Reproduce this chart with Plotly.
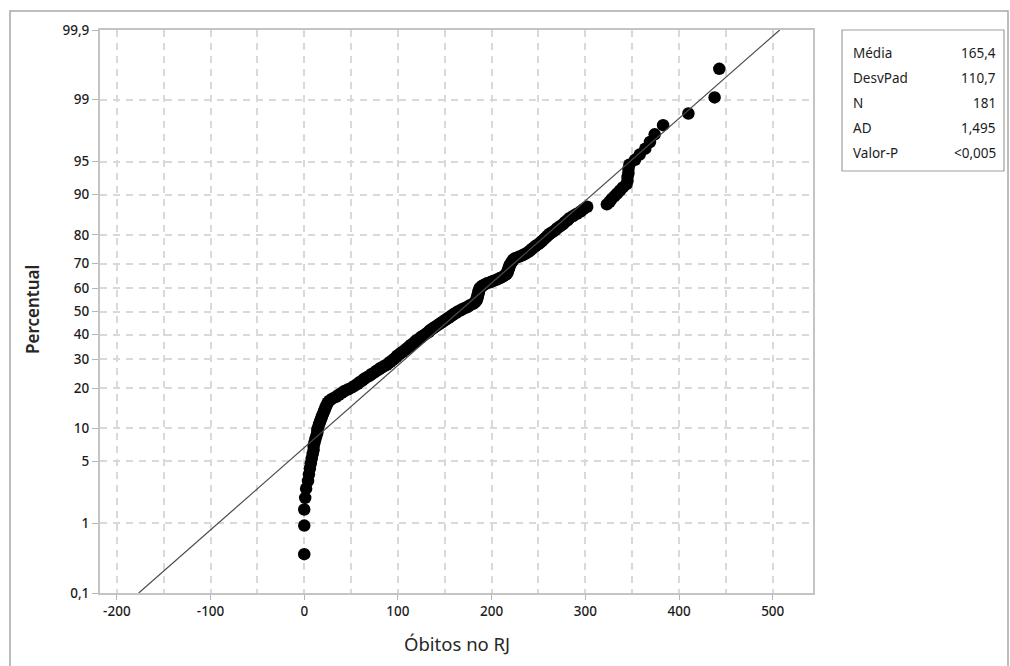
import plotly.graph_objects as go
from statistics import NormalDist

# ---- data (sorted daily deaths) ----
obitos = [
    0, 0, 0, 1, 2, 4, 5, 6, 7, 8,
    9, 10, 10, 11, 12, 13, 14, 14, 15, 16,
    17, 18, 19, 20, 21, 22, 23, 24, 25, 27,
    30, 34, 37, 40, 43, 47, 51, 54, 57, 59,
    62, 64, 67, 70, 72, 75, 77, 80, 82, 85,
    88, 90, 92, 94, 96, 98, 99, 101, 103, 105,
    107, 109, 111, 112, 114, 116, 118, 119, 121, 123,
    125, 127, 129, 131, 133, 134, 136, 138, 140, 142,
    144, 146, 148, 150, 152, 154, 156, 158, 160, 162,
    164, 167, 169, 172, 175, 177, 180, 182, 183, 184,
    184, 185, 185, 185, 186, 186, 186, 187, 187, 188,
    190, 192, 195, 199, 202, 206, 209, 212, 214, 216,
    217, 217, 218, 218, 219, 219, 220, 221, 222, 223,
    225, 229, 233, 236, 239, 241, 243, 245, 247, 250,
    252, 254, 256, 258, 260, 262, 265, 268, 270, 273,
    276, 278, 281, 283, 287, 291, 295, 298, 302, 323,
    326, 328, 331, 334, 337, 340, 344, 345, 345, 346,
    346, 347, 353, 358, 364, 369, 374, 383, 410, 438, 443,
]
media = 165.4
desvpad = 110.7
stat_labels = ["Média", "DesvPad", "N", "AD", "Valor-P"]
stat_values = ["165,4", "110,7", "181", "1,495", "<0,005"]
pct_ticks = [0.1, 1, 5, 10, 20, 30, 40, 50, 60, 70, 80, 90, 95, 99, 99.9]
pct_labels = ["0,1", "1", "5", "10", "20", "30", "40", "50", "60", "70",
              "80", "90", "95", "99", "99,9"]
x_ticks = [-200, -100, 0, 100, 200, 300, 400, 500]
x_labels = ["-200", "-100", "0", "100", "200", "300", "400", "500"]

# ---- probability scale ----
nd = NormalDist()
xs = sorted(obitos)
n = len(xs)
zs = [nd.inv_cdf((i + 1 - 0.3) / (n + 0.4)) for i in range(n)]
ztick = [nd.inv_cdf(p / 100.0) for p in pct_ticks]
zlim = nd.inv_cdf(0.999)
zline = [-zlim, zlim]
xline = [media + desvpad * z for z in zline]

W, H = 1010, 666
L, R, T, B = 100, 813, 30, 593


def px(x):
    return (x - L) / (R - L)


def py(y):
    return (B - y) / (B - T)


FONT = "Noto Sans, Open Sans, DejaVu Sans, sans-serif"
GRID = "#d9d9d9"
TXT = "#1c1c1c"

fig = go.Figure()
fig.add_trace(go.Scatter(
    x=xs, y=zs, mode="markers",
    marker=dict(color="black", size=12.5, line=dict(width=0)),
    showlegend=False, hoverinfo="x+y",
))
fig.add_trace(go.Scatter(
    x=xline, y=zline, mode="lines",
    line=dict(color="#4a4a4a", width=1.2),
    showlegend=False, hoverinfo="skip",
))

fig.update_layout(
    width=W, height=H,
    margin=dict(l=L, r=W - R, t=T, b=H - B, pad=0),
    paper_bgcolor="white", plot_bgcolor="white",
    font=dict(family=FONT, color=TXT, size=13),
    showlegend=False,
)
fig.update_xaxes(
    range=[-218, 543], tickmode="array", tickvals=x_ticks, ticktext=x_labels,
    showgrid=True, gridcolor=GRID, griddash="7px,6px", gridwidth=1.5,
    minor=dict(dtick=50, tick0=0, showgrid=True, gridcolor=GRID,
               griddash="7px,6px", gridwidth=1.5),
    zeroline=False, showline=True, mirror=True,
    linecolor="#c4c4c4", linewidth=2,
    ticks="outside", ticklen=5, tickcolor="#b5b5b5",
    tickfont=dict(size=13.5, color=TXT, weight=500),
)
fig.update_yaxes(
    range=[-zlim, zlim], tickmode="array", tickvals=ztick, ticktext=pct_labels,
    showgrid=True, gridcolor=GRID, griddash="7px,6px", gridwidth=1.5,
    zeroline=False, showline=True, mirror=True,
    linecolor="#c4c4c4", linewidth=2,
    ticks="outside", ticklen=6, tickcolor="#b5b5b5",
    tickfont=dict(size=13.5, color=TXT, weight=500),
)

annotations = [
    dict(text="Percentual", x=px(32), y=py(310), xref="paper", yref="paper",
         textangle=-90, showarrow=False, xanchor="center", yanchor="middle",
         font=dict(size=17, color="#262626", family=FONT, weight=600)),
    dict(text="Óbitos no RJ", x=px(457), y=py(643), xref="paper", yref="paper",
         showarrow=False, xanchor="center", yanchor="middle",
         font=dict(size=18.5, color="#262626", family=FONT)),
]
row_y = [53, 78, 103, 128, 153]
for lab, val, yy in zip(stat_labels, stat_values, row_y):
    annotations.append(dict(text=lab, x=px(851), y=py(yy), xref="paper", yref="paper",
                            showarrow=False, xanchor="left", yanchor="middle",
                            font=dict(size=13.5, color=TXT, family=FONT)))
    annotations.append(dict(text=val, x=px(998), y=py(yy), xref="paper", yref="paper",
                            showarrow=False, xanchor="right", yanchor="middle",
                            font=dict(size=13.5, color=TXT, family=FONT)))
fig.update_layout(annotations=annotations)

fig.update_layout(shapes=[
    # outer chart frame
    dict(type="rect", xref="paper", yref="paper",
         x0=px(10), x1=px(1008), y0=py(700), y1=py(11),
         line=dict(color="#a8a8a8", width=1.5), fillcolor="rgba(0,0,0,0)", layer="below"),
    # stats box
    dict(type="rect", xref="paper", yref="paper",
         x0=px(842), x1=px(1004), y0=py(171), y1=py(30),
         line=dict(color="#a0a0a0", width=1.2), fillcolor="white", layer="above"),
])

fig.write_html("out.html")
